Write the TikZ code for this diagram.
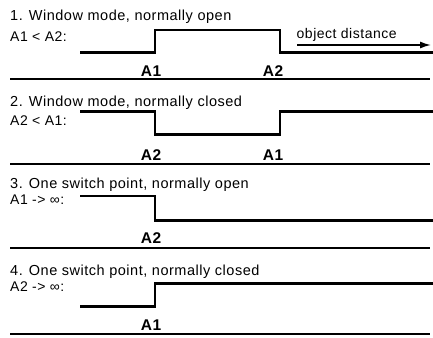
\documentclass[tikz,border=0pt]{standalone}
\usepackage{fontspec}
\setmainfont{Liberation Sans}
\newfontfamily\widefont[LetterSpace=3.6]{Liberation Sans}
\usetikzlibrary{arrows.meta}
\begin{document}
\begin{tikzpicture}[x=1pt,y=-1pt,
  title/.style={anchor=west,inner sep=0pt,font=\widefont\fontsize{14.5}{14.5}\selectfont},
  cond/.style={anchor=west,inner sep=0pt,font=\widefont\fontsize{14}{14}\selectfont},
  pt/.style={inner sep=0pt,font=\widefont\fontsize{15.5}{15.5}\selectfont\bfseries},
  signal/.style={line width=2.8pt,line join=miter,line cap=butt},
  rule/.style={line width=1.6pt}]
\useasboundingbox (0,0) rectangle (433,337);
% ---- 1
\node[title] (t1) at (10,17) {1. Window mode, normally open};
\node[cond] (c1) at (10,36.5) {A1 < A2:};
\coordinate (s1a) at (80,52.5);
\coordinate (s1b) at (155,30);
\coordinate (s1c) at (280,52.5);
\coordinate (s1d) at (433,52.5);
\draw[signal] (s1a) -| (s1b) -| (s1c) -- (s1d);
\node[cond] (od) at (296.5,34.5) {object distance};
\coordinate (ar1) at (297,45);
\coordinate (ar2) at (431,45);
\draw[line width=1.5pt,-{Latex[length=11pt,width=7pt]}] (ar1) -- (ar2);
\node[pt] (l1a) at (151,71) {A1};
\node[pt] (l1b) at (273,71) {A2};
\coordinate (r1a) at (10,79);
\coordinate (r1b) at (430,79);
\draw[rule] (r1a) -- (r1b);
% ---- 2
\node[title] (t2) at (10,103) {2. Window mode, normally closed};
\node[cond] (c2) at (10,121) {A2 < A1:};
\coordinate (s2a) at (80,111.7);
\coordinate (s2b) at (155,134.3);
\coordinate (s2c) at (280,111.7);
\coordinate (s2d) at (433,111.7);
\draw[signal] (s2a) -| (s2b) -| (s2c) -- (s2d);
\node[pt] (l2a) at (151,155) {A2};
\node[pt] (l2b) at (273,155) {A1};
\coordinate (r2a) at (10,164);
\coordinate (r2b) at (430,164);
\draw[rule] (r2a) -- (r2b);
% ---- 3
\node[title] (t3) at (10,185) {3. One switch point, normally open};
\node[cond] (c3) at (10,199.5) {A1 -> ∞:};
\coordinate (s3a) at (80,196);
\coordinate (s3b) at (155,220.7);
\coordinate (s3d) at (433,220.7);
\draw[signal] (s3a) -| (s3b) -- (s3d);
\node[pt] (l3a) at (151,238.5) {A2};
\coordinate (r3a) at (10,248);
\coordinate (r3b) at (430,248);
\draw[rule] (r3a) -- (r3b);
% ---- 4
\node[title] (t4) at (10,271.7) {4. One switch point, normally closed};
\node[cond] (c4) at (10,286.5) {A2 -> ∞:};
\coordinate (s4a) at (80,306.7);
\coordinate (s4b) at (155,283.3);
\coordinate (s4d) at (433,283.3);
\draw[signal] (s4a) -| (s4b) -- (s4d);
\node[pt] (l4a) at (151,325) {A1};
\coordinate (r4a) at (10,334);
\coordinate (r4b) at (430,334);
\draw[rule] (r4a) -- (r4b);
\end{tikzpicture}
\end{document}
